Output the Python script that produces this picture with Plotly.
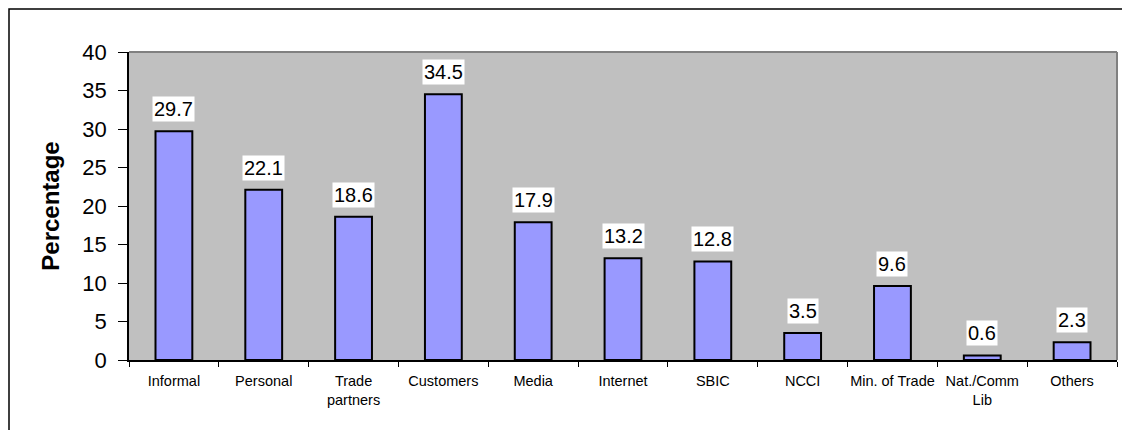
import plotly.graph_objects as go

categories = ["Informal", "Personal", "Trade<br>partners", "Customers", "Media", "Internet",
              "SBIC", "NCCI", "Min. of Trade", "Nat./Comm<br>Lib", "Others"]
values = [29.7, 22.1, 18.6, 34.5, 17.9, 13.2, 12.8, 3.5, 9.6, 0.6, 2.3]
y_ticks = [0, 5, 10, 15, 20, 25, 30, 35, 40]

# page body has an 8px default margin; compensate so the figure fills the window
OFF = 8
W, H = 1130 - OFF, 430 - OFF
L, R, T, B = 129 - OFF, 13, 52 - OFF, 70
pw, ph = W - L - R, H - T - B
FONT = "Arial, Liberation Sans, sans-serif"

fig = go.Figure()
fig.add_trace(go.Bar(
    x=categories, y=values,
    marker=dict(color="#9999FF", line=dict(color="black", width=2)),
    width=0.41,
    hoverinfo="x+y",
))

for c, v in zip(categories, values):
    fig.add_annotation(
        x=c, y=v, text=f"{v:.1f}", showarrow=False,
        yanchor="bottom", yshift=9,
        bgcolor="white", borderpad=1,
        font=dict(family=FONT, size=20, color="black"),
    )

# outer chart border (left and top visible)
fig.add_shape(type="rect", xref="paper", yref="paper",
              x0=(9 - 129) / pw, x1=(W + 20 - L) / pw,
              y0=-(B + 20) / ph, y1=1 + (T - (9 - OFF)) / ph,
              line=dict(color="black", width=1.5), layer="below")
# plot area frame top/right gray
fig.add_shape(type="line", xref="paper", yref="paper", x0=0, x1=1, y0=1, y1=1,
              line=dict(color="#808080", width=2))
fig.add_shape(type="line", xref="paper", yref="paper", x0=1, x1=1, y0=0, y1=1,
              line=dict(color="#808080", width=2))

fig.update_layout(
    width=W, height=H,
    margin=dict(l=L, r=R, t=T, b=B, pad=0, autoexpand=False),
    paper_bgcolor="white", plot_bgcolor="#C0C0C0",
    showlegend=False,
    font=dict(family=FONT, color="black"),
    bargap=0.59,
)
fig.update_xaxes(
    type="category", showgrid=False, zeroline=False, automargin=False,
    showline=True, linecolor="black", linewidth=1.5,
    ticks="outside", tickson="boundaries", ticklen=5, tickcolor="black", tickwidth=1,
    tickangle=0,
    tickfont=dict(size=14.5, family=FONT, color="black"),
    ticklabelstandoff=7,
)
fig.update_yaxes(
    range=[0, 40], tickvals=y_ticks, showgrid=False, zeroline=False, automargin=False,
    showline=True, linecolor="black", linewidth=1.5,
    ticks="outside", ticklen=9, tickcolor="black", tickwidth=1,
    tickfont=dict(size=22, family=FONT, color="black"),
    ticklabelstandoff=7,
    title=dict(text="<b>Percentage</b>", font=dict(size=24, family=FONT), standoff=16),
)

fig.write_html("out.html")
